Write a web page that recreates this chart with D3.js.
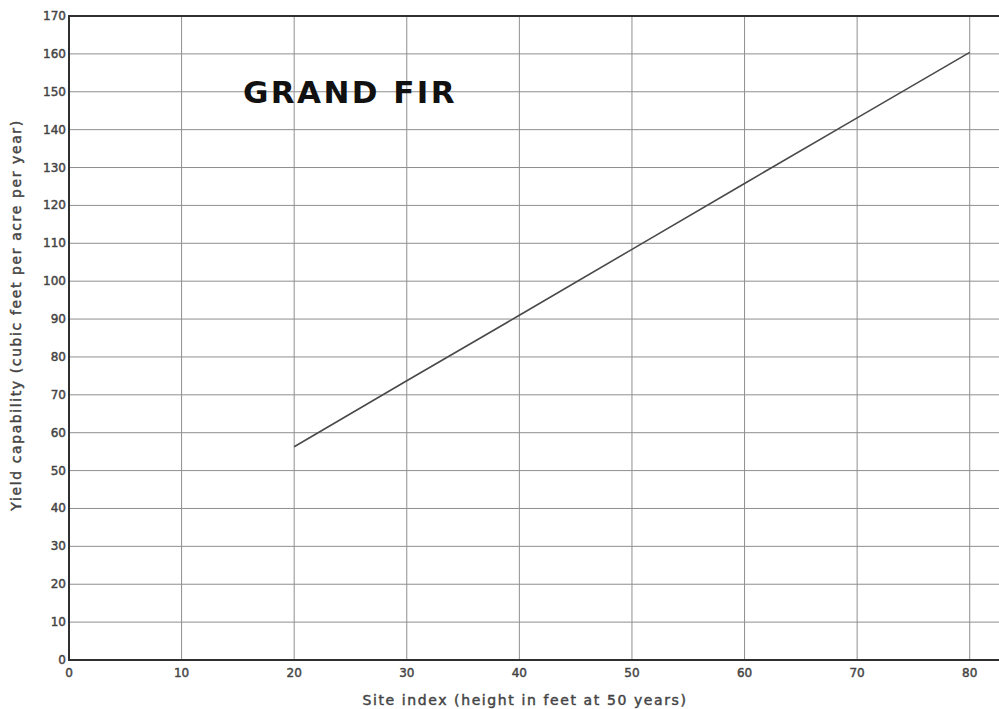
<!DOCTYPE html>
<html>
<head>
<meta charset="utf-8">
<script src="https://cdn.jsdelivr.net/npm/d3@7"></script>
<style>
  body { margin: 0; background: #fff; }
  svg text { font-family: "DejaVu Sans", "Liberation Sans", sans-serif; fill: #444; }
  .lbl { stroke: #444; stroke-width: 0.45px; }
  .grid line { stroke: #8f8f8f; stroke-width: 1; }
</style>
</head>
<body>
<div id="chart"></div>
<script>
// site index vs yield capability
const siteIndex = [20, 30, 40, 50, 60, 70, 80];
const yieldCap = [56.3, 73.7, 91.0, 108.4, 125.8, 143.1, 160.4];
const xTicks = [0, 10, 20, 30, 40, 50, 60, 70, 80];
const yTicks = d3.range(0, 171, 10);

const width = 999, height = 709;
const plotLeft = 69, plotRight = 999, plotTop = 16, plotBottom = 660;

let svg = d3.select('#chart')
    .append('svg')
    .attr('width', width)
    .attr('height', height);

let x = d3.scaleLinear().domain([0, 82.6]).range([plotLeft, plotRight]);
let y = d3.scaleLinear().domain([0, 170]).range([plotBottom, plotTop]);

// grid
let grid = svg.append('g').attr('class', 'grid');
grid.selectAll('line.h')
    .data(yTicks.slice(1, -1))
    .join('line')
    .attr('class', 'h')
    .attr('x1', plotLeft).attr('x2', plotRight)
    .attr('y1', d => y(d)).attr('y2', d => y(d));
grid.selectAll('line.v')
    .data(xTicks.slice(1))
    .join('line')
    .attr('class', 'v')
    .attr('x1', d => x(d)).attr('x2', d => x(d))
    .attr('y1', plotTop).attr('y2', plotBottom);

// frame: left, bottom and top
svg.append('path')
    .attr('d', `M${plotRight},${plotTop}H${plotLeft}V${plotBottom}H${plotRight}`)
    .attr('fill', 'none')
    .attr('stroke', '#2f2f2f')
    .attr('stroke-width', 2);

// tick labels
svg.append('g')
    .selectAll('text')
    .data(yTicks)
    .join('text')
    .attr('class', 'lbl')
    .attr('x', plotLeft - 3)
    .attr('y', d => y(d) + 4)
    .attr('text-anchor', 'end')
    .attr('font-size', 12)
    .text(d => d);

svg.append('g')
    .selectAll('text')
    .data(xTicks)
    .join('text')
    .attr('class', 'lbl')
    .attr('x', d => x(d))
    .attr('y', plotBottom + 17)
    .attr('text-anchor', 'middle')
    .attr('font-size', 12)
    .text(d => d);

// yield line
let line = d3.line()
    .x((d, i) => x(siteIndex[i]))
    .y(d => y(d));
svg.append('path')
    .datum(yieldCap)
    .attr('d', line)
    .attr('fill', 'none')
    .attr('stroke', '#4a4a4a')
    .attr('stroke-width', 1.6);

// titles
svg.append('text')
    .attr('x', 243)
    .attr('y', 103)
    .attr('font-size', 31)
    .attr('font-weight', 'bold')
    .style('fill', '#111')
    .style('letter-spacing', '2.4px')
    .text('GRAND FIR');

svg.append('text')
    .attr('class', 'lbl')
    .attr('x', 525)
    .attr('y', 705)
    .attr('text-anchor', 'middle')
    .attr('font-size', 14)
    .style('letter-spacing', '1.6px')
    .text('Site index (height in feet at 50 years)');

svg.append('text')
    .attr('class', 'lbl')
    .attr('transform', `translate(21,315) rotate(-90)`)
    .attr('text-anchor', 'middle')
    .attr('font-size', 14)
    .style('letter-spacing', '1.6px')
    .text('Yield capability (cubic feet per acre per year)');
</script>
</body>
</html>
